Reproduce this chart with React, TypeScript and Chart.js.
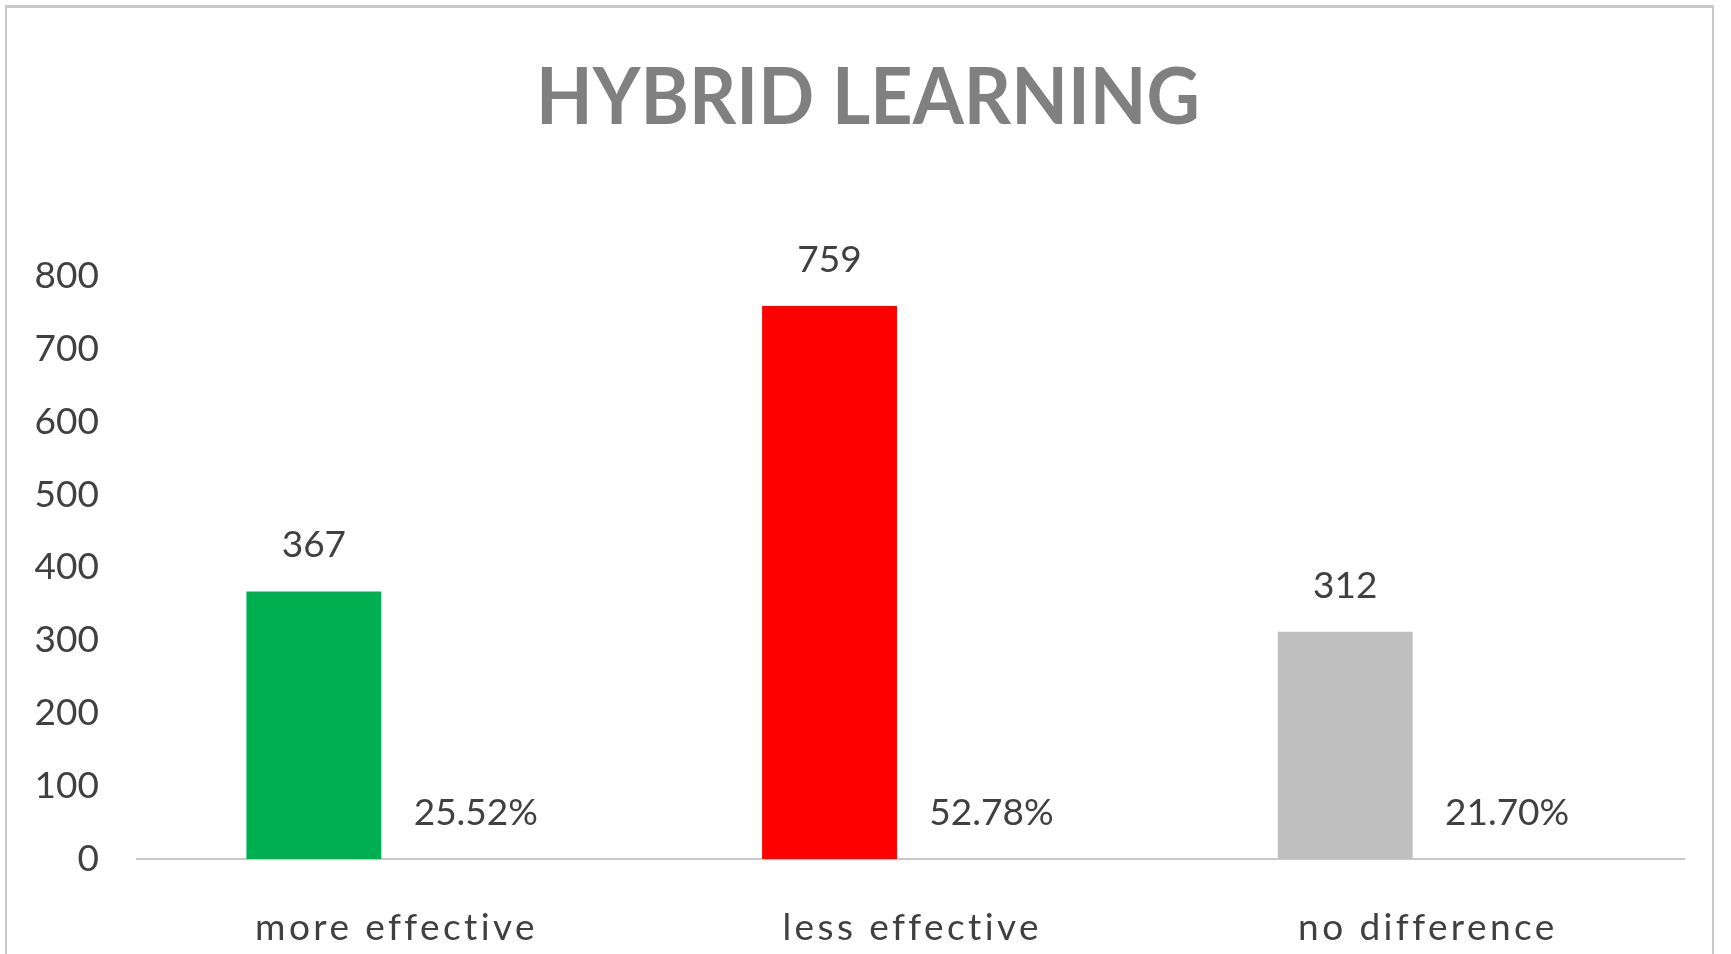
import React, { useEffect, useRef } from "react";
import { Chart, registerables } from "chart.js";

Chart.register(...registerables);

const titleText = "HYBRID LEARNING";
const categories = ["more effective", "less effective", "no difference"];
const counts = [367, 759, 312];
const shares = [0.2552, 0.5278, 0.217];
const barColors = ["#00B050", "#FF0000", "#BFBFBF"];
const yMin = 0;
const yMax = 800;
const yStep = 100;

const TEXT = "#404040";
const FONT = "Lato, 'Open Sans', sans-serif";
const FS = 37;

const titlePlugin = {
  id: "customTitle",
  afterDraw(chart: any) {
    const ctx = chart.ctx;
    ctx.save();
    ctx.font = `bold 79px ${FONT}`;
    ctx.fillStyle = "#808080";
    ctx.textAlign = "center";
    ctx.textBaseline = "alphabetic";
    ctx.translate(868, 124);
    ctx.scale(0.932, 1);
    ctx.fillText(titleText, 0, 0);
    ctx.restore();
  },
};

const labelPlugin = {
  id: "valueLabels",
  afterDatasetsDraw(chart: any) {
    const ctx = chart.ctx;
    ctx.save();
    ctx.font = `${FS}px ${FONT}`;
    ctx.fillStyle = TEXT;
    ctx.textAlign = "center";
    ctx.textBaseline = "middle";
    chart.data.datasets.forEach((ds: any, di: number) => {
      const meta = chart.getDatasetMeta(di);
      meta.data.forEach((el: any, i: number) => {
        const v = ds.data[i];
        const txt = di === 0 ? String(v) : (v * 100).toFixed(2) + "%";
        ctx.fillText(txt, el.x, el.y - 46);
      });
    });
    ctx.restore();
  },
};

const xLabelPlugin = {
  id: "xLabels",
  afterDraw(chart: any) {
    const ctx = chart.ctx;
    const xs = chart.scales.x;
    ctx.save();
    ctx.font = `${FS}px ${FONT}`;
    ctx.fillStyle = TEXT;
    ctx.textAlign = "center";
    ctx.textBaseline = "middle";
    try {
      (ctx as any).letterSpacing = "3.4px";
    } catch (e) {}
    categories.forEach((c, i) => {
      ctx.fillText(c, xs.getPixelForValue(i) + 1.7, 928);
    });
    ctx.restore();
  },
};

export default function App() {
  const ref = useRef<HTMLCanvasElement | null>(null);
  useEffect(() => {
    if (!ref.current) return;
    const chart = new Chart(ref.current, {
      type: "bar",
      data: {
        labels: categories,
        datasets: [
          {
            label: "count",
            data: counts,
            backgroundColor: barColors,
            categoryPercentage: 0.628,
            barPercentage: 0.833,
          },
          {
            label: "share",
            data: shares,
            backgroundColor: "rgba(0,0,0,0)",
            categoryPercentage: 0.628,
            barPercentage: 0.833,
          },
        ],
      },
      options: {
        responsive: false,
        animation: false,
        layout: { padding: { left: 0, right: 47, top: 276, bottom: 0 } },
        plugins: {
          legend: { display: false },
          tooltip: { enabled: false },
          title: { display: false },
        },
        scales: {
          x: {
            grid: { display: false, drawTicks: false },
            border: { display: true, color: "#C8C8C8", width: 2 },
            ticks: { display: false },
            afterFit(scale: any) {
              scale.height = 95;
            },
          },
          y: {
            min: yMin,
            max: yMax,
            grid: { display: false, drawTicks: false },
            border: { display: false },
            ticks: {
              stepSize: yStep,
              color: TEXT,
              font: { family: FONT, size: FS },
              padding: 38,
            },
            afterFit(scale: any) {
              scale.width = 137;
            },
          },
        },
      },
      plugins: [labelPlugin, xLabelPlugin, titlePlugin],
    } as any);
    return () => chart.destroy();
  }, []);

  return (
    <div style={{ position: "fixed", left: 0, top: 0, width: 1731, height: 954, background: "#fff", overflow: "hidden" }}>
      <div
        style={{
          position: "absolute",
          left: 5,
          top: 5,
          width: 1705,
          height: 1000,
          borderTop: "3px solid #C8C8C8",
          borderLeft: "2px solid #C8C8C8",
          borderRight: "2px solid #C8C8C8",
        }}
      />
      <canvas ref={ref} width={1731} height={954} style={{ position: "absolute", left: 0, top: 0 }} />
    </div>
  );
}
